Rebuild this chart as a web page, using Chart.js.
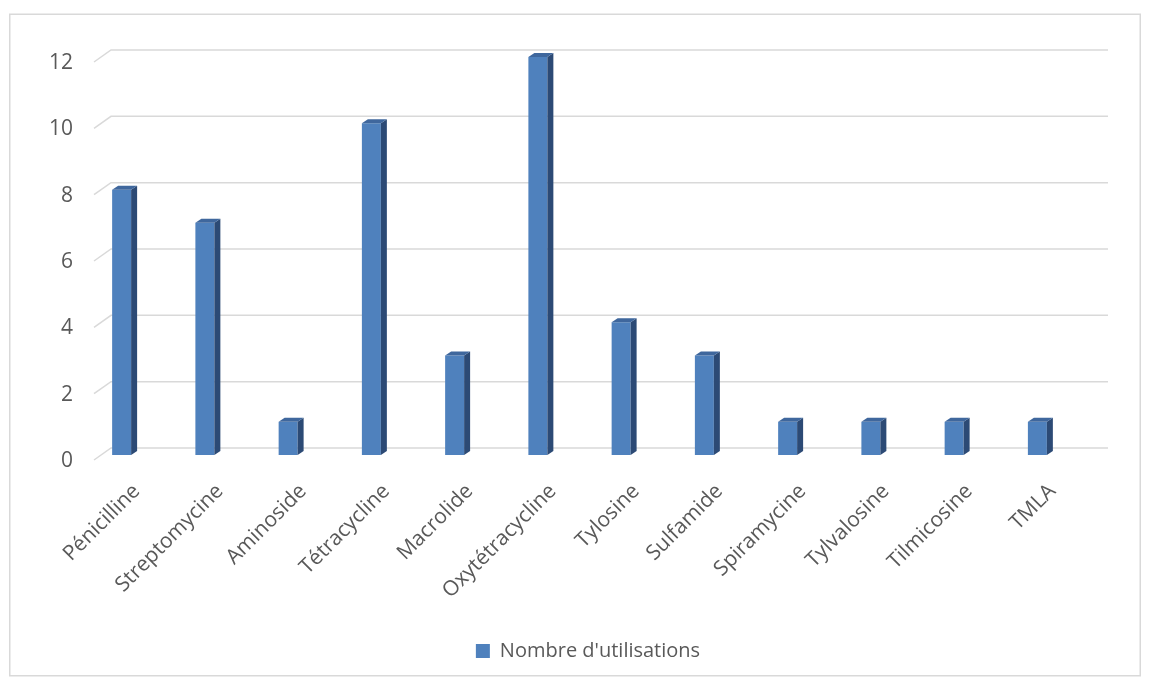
<!DOCTYPE html>
<html>
<head>
<meta charset="utf-8">
<script src="https://cdn.jsdelivr.net/npm/chart.js@4/dist/chart.umd.min.js"></script>
<style>
  html, body { margin: 0; padding: 0; background: #ffffff; }
  canvas { display: block; }
</style>
</head>
<body>
<canvas id="c" width="1149" height="680"></canvas>
<script>
const categories = ['Pénicilline', 'Streptomycine', 'Aminoside', 'Tétracycline', 'Macrolide', 'Oxytétracycline', 'Tylosine', 'Sulfamide', 'Spiramycine', 'Tylvalosine', 'Tilmicosine', 'TMLA'];
const seriesName = "Nombre d'utilisations";
const usages = [8, 7, 1, 10, 3, 12, 4, 3, 1, 1, 1, 1];
const yMin = 0;
const yMax = 12;
const yStep = 2;

const FONT = "'Open Sans', 'Noto Sans', sans-serif";
const TEXT = '#595959';
const GRID = '#d9d9d9';
const FRONT = '#4f81bd';
const SIDE = '#2c4a75';
const TOP = '#3f679d';
const DEPTH_X = 6, DEPTH_Y = -4;
const PAD_BOTTOM = 9;
const TARGET_BOTTOM = 455;

const framePlugin = {
  id: 'frame',
  beforeDraw(chart) {
    const ctx = chart.ctx;
    ctx.save();
    ctx.fillStyle = '#ffffff';
    ctx.fillRect(0, 0, chart.width, chart.height);
    ctx.strokeStyle = GRID;
    ctx.lineWidth = 1.5;
    ctx.strokeRect(9.75, 14.25, 1130.5, 661.5);
    ctx.restore();
  },
  afterLayout(chart) {
    const lg = chart.legend;
    if (lg) {
      const shift = 588 - (lg.left + lg.right) / 2;
      lg.left += shift; lg.right += shift;
    }
  }
};

const wallPlugin = {
  id: 'wall3d',
  beforeDatasetsDraw(chart) {
    const ctx = chart.ctx, y = chart.scales.y, a = chart.chartArea;
    const fx = a.left + 14, bx = fx + 17, ex = a.right + 29;
    ctx.save();
    ctx.strokeStyle = GRID;
    ctx.lineWidth = 1.5;
    y.ticks.forEach(t => {
      const py = y.getPixelForValue(t.value) + 5;
      ctx.beginPath();
      ctx.moveTo(fx, py);
      ctx.lineTo(bx, py - 12);
      ctx.lineTo(ex, py - 12);
      ctx.stroke();
    });
    ctx.restore();
  },
  afterDatasetsDraw(chart) {
    const ctx = chart.ctx;
    const meta = chart.getDatasetMeta(0);
    ctx.save();
    meta.data.forEach(bar => {
      const p = bar.getProps(['x', 'y', 'base', 'width'], true);
      const L = p.x - p.width / 2, R = p.x + p.width / 2, T = p.y, B = p.base;
      ctx.fillStyle = SIDE;
      ctx.beginPath();
      ctx.moveTo(R, B); ctx.lineTo(R, T); ctx.lineTo(R + DEPTH_X, T + DEPTH_Y); ctx.lineTo(R + DEPTH_X, B + DEPTH_Y);
      ctx.closePath(); ctx.fill();
      ctx.fillStyle = TOP;
      ctx.beginPath();
      ctx.moveTo(L, T); ctx.lineTo(R, T); ctx.lineTo(R + DEPTH_X, T + DEPTH_Y); ctx.lineTo(L + DEPTH_X, T + DEPTH_Y);
      ctx.closePath(); ctx.fill();
    });
    ctx.restore();
  }
};

new Chart(document.getElementById('c'), {
  type: 'bar',
  data: {
    labels: categories,
    datasets: [{
      label: seriesName,
      data: usages,
      backgroundColor: FRONT,
      borderWidth: 0,
      barPercentage: 0.228,
      categoryPercentage: 1.0
    }]
  },
  options: {
    responsive: false,
    animation: false,
    layout: { padding: { top: 57, right: 70, left: 0, bottom: PAD_BOTTOM } },
    plugins: {
      legend: {
        position: 'bottom',
        labels: {
          boxWidth: 14, boxHeight: 14,
          color: TEXT,
          font: { family: FONT, size: 20 },
          padding: 10
        }
      },
      tooltip: { enabled: false }
    },
    scales: {
      x: {
        grid: { display: false, drawTicks: false },
        border: { display: false },
        ticks: {
          color: TEXT,
          font: { family: FONT, size: 21 },
          minRotation: 45, maxRotation: 45,
          autoSkip: false,
          labelOffset: 15,
          padding: 24
        },
        afterFit(s) {
          const lh = s.chart.legend ? s.chart.legend.height : 0;
          s.height = s.chart.height - PAD_BOTTOM - lh - TARGET_BOTTOM;
        }
      },
      y: {
        min: yMin, max: yMax,
        grid: { display: false, drawTicks: false },
        border: { display: false },
        ticks: {
          stepSize: yStep,
          color: TEXT,
          font: { family: FONT, size: 21 },
          padding: 7,
          labelOffset: 6
        },
        afterFit(s) { s.width = 80; }
      }
    }
  },
  plugins: [framePlugin, wallPlugin]
});
</script>
</body>
</html>
